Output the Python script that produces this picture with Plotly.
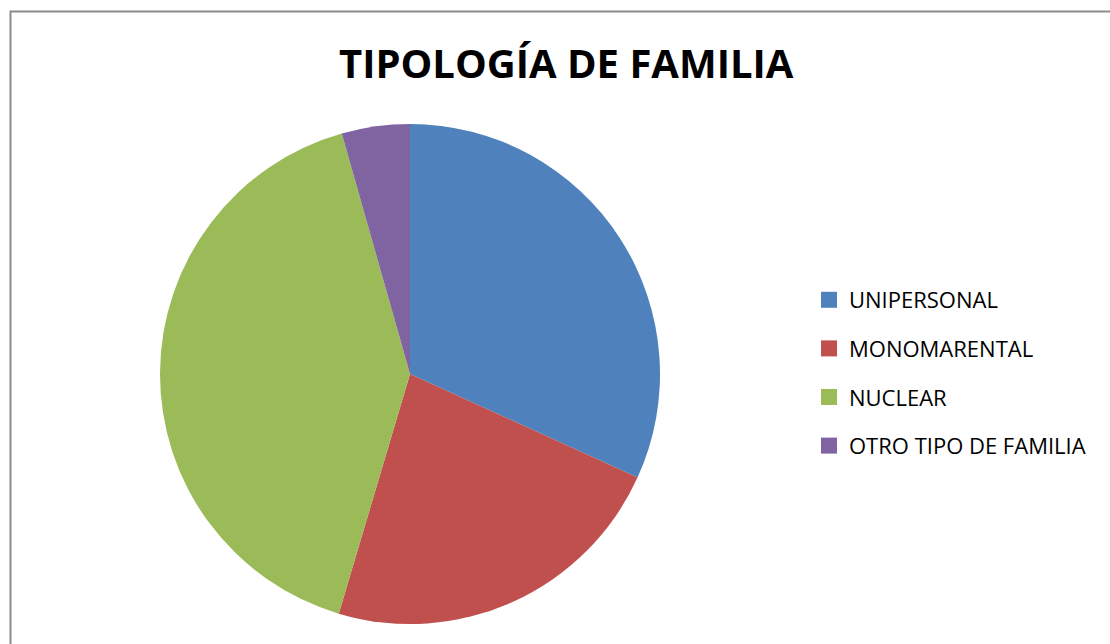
import plotly.graph_objects as go

categories = ["UNIPERSONAL", "MONOMARENTAL", "NUCLEAR", "OTRO TIPO DE FAMILIA"]
values = [31.8, 22.8, 41.0, 4.4]
colors = ["#4F81BD", "#C0504D", "#9BBB59", "#8064A2"]

W, H = 1110, 644
fig = go.Figure()
fig.add_trace(go.Pie(
    labels=categories, values=values, sort=False, direction="clockwise",
    rotation=0, marker=dict(colors=colors, line=dict(width=0)),
    textinfo="none", hoverinfo="label+value", showlegend=False,
    domain=dict(x=[160 / W, 660 / W], y=[20 / H, 520 / H]),
))
for i, (c, col) in enumerate(zip(categories, colors)):
    fig.add_trace(go.Scatter(
        x=[None], y=[None], mode="markers", name=c,
        marker=dict(symbol="square", size=16, color=col),
        legendgroup=f"g{i}", showlegend=True,
    ))

fig.update_layout(
    width=W, height=H, margin=dict(l=0, r=0, t=0, b=0),
    paper_bgcolor="white", plot_bgcolor="white",
    xaxis=dict(visible=False), yaxis=dict(visible=False),
    font=dict(family="Open Sans, Liberation Sans, sans-serif", color="#000"),
    legend=dict(x=809 / W, y=1 - 279 / H, xanchor="left", yanchor="top",
                font=dict(size=22, family="Open Sans, sans-serif"),
                tracegroupgap=17, itemwidth=30, bgcolor="rgba(0,0,0,0)"),
    annotations=[dict(text="<b>TIPOLOGÍA DE FAMILIA</b>", x=566 / W, y=1 - 62 / H,
                      xref="paper", yref="paper", showarrow=False,
                      font=dict(size=40, family="Open Sans, sans-serif", color="#000"),
                      xanchor="center", yanchor="middle")],
    shapes=[dict(type="rect", xref="paper", yref="paper",
                 x0=10.5 / W, x1=1.05, y0=-0.05, y1=1 - 11.5 / H,
                 line=dict(color="#8c8c8c", width=2), fillcolor="rgba(0,0,0,0)")],
)
fig.write_html("out.html", post_script="document.body.style.margin='0';",
               config={"displayModeBar": False})
